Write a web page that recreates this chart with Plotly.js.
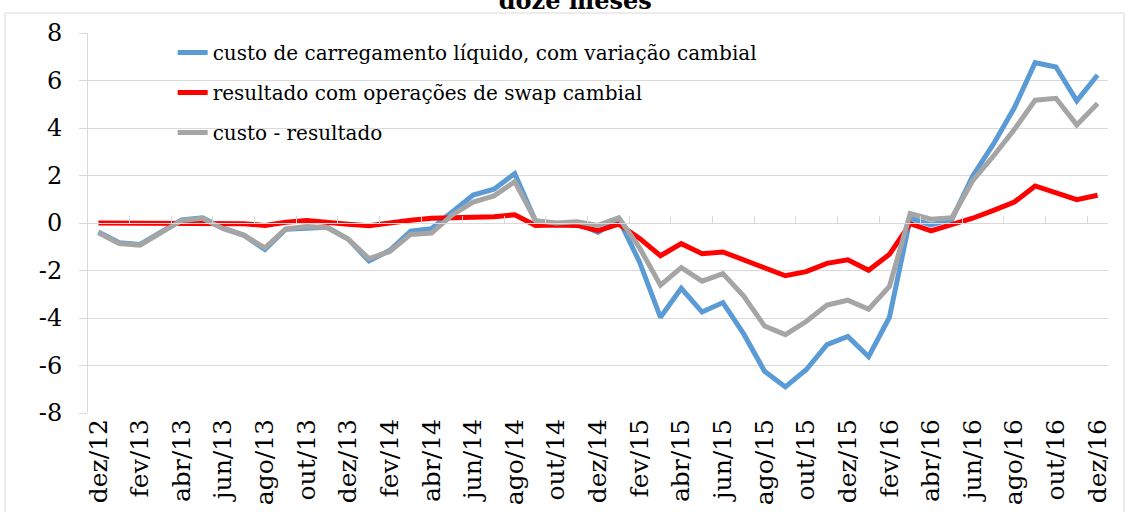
<!DOCTYPE html>
<html>
<head>
<meta charset="utf-8">
<script src="https://cdn.plot.ly/plotly-3.0.1.min.js"></script>
<style>
  html, body { margin: 0; padding: 0; background: #fff; }
  #chart { width: 1128px; height: 512px; }
</style>
</head>
<body>
<div id="chart"></div>
<script>
// Months (dez/2012 .. dez/2016)
const months = [
  "dez/12","jan/13","fev/13","mar/13","abr/13","mai/13","jun/13","jul/13","ago/13","set/13","out/13","nov/13",
  "dez/13","jan/14","fev/14","mar/14","abr/14","mai/14","jun/14","jul/14","ago/14","set/14","out/14","nov/14",
  "dez/14","jan/15","fev/15","mar/15","abr/15","mai/15","jun/15","jul/15","ago/15","set/15","out/15","nov/15",
  "dez/15","jan/16","fev/16","mar/16","abr/16","mai/16","jun/16","jul/16","ago/16","set/16","out/16","nov/16",
  "dez/16"
];

const custo = [
  -0.38, -0.83, -0.90, -0.41, 0.13, 0.22, -0.22, -0.52, -1.12, -0.26, -0.20, -0.18,
  -0.68, -1.60, -1.15, -0.34, -0.24, 0.50, 1.18, 1.42, 2.08, 0.08, -0.03, 0.00,
  -0.40, 0.15, -1.65, -3.97, -2.75, -3.75, -3.35, -4.67, -6.24, -6.90, -6.18, -5.12,
  -4.78, -5.63, -3.97, 0.20, -0.08, 0.15, 1.98, 3.33, 4.85, 6.75, 6.57, 5.14,
  6.23
];

const resultado = [
  0.00, 0.00, 0.01, 0.00, 0.00, 0.02, 0.00, -0.03, -0.10, 0.03, 0.10, 0.00,
  -0.05, -0.12, 0.02, 0.12, 0.20, 0.22, 0.27, 0.26, 0.35, -0.10, -0.08, -0.10,
  -0.32, -0.05, -0.65, -1.38, -0.87, -1.29, -1.22, -1.57, -1.88, -2.22, -2.05, -1.70,
  -1.55, -1.99, -1.32, -0.03, -0.33, -0.06, 0.20, 0.53, 0.88, 1.56, 1.28, 0.98,
  1.17
];

const diferenca = [
  -0.41, -0.86, -0.93, -0.41, 0.11, 0.20, -0.24, -0.52, -1.05, -0.25, -0.15, -0.20,
  -0.68, -1.50, -1.20, -0.48, -0.42, 0.34, 0.88, 1.14, 1.74, 0.10, 0.00, 0.05,
  -0.10, 0.22, -1.05, -2.62, -1.88, -2.45, -2.13, -3.08, -4.34, -4.70, -4.15, -3.45,
  -3.25, -3.63, -2.67, 0.40, 0.16, 0.22, 1.78, 2.82, 3.94, 5.17, 5.25, 4.13,
  5.03
];

const seriesNames = [
  "custo de carregamento líquido, com variação cambial",
  "resultado com operações de swap cambial",
  "custo - resultado"
];
const yTicks = [-8, -6, -4, -2, 0, 2, 4, 6, 8];
const yTickText = ["-8", "-6", "-4", "-2", "0", "2", "4", "6", "8"];

const tickLabels = months.filter((m, i) => i % 2 === 0);
const tickMarks = months.map((m, i) => i + 1.5).filter((v, i) => i % 2 === 0 && v < months.length - 1);

const FONT = "DejaVu Serif, Liberation Serif, serif";
const GRID = "#D9D9D9";

const traces = [
  { x: months, y: custo, name: seriesNames[0], legendgroup: "a", type: "scatter", mode: "lines",
    line: { color: "#5B9BD5", width: 5 } },
  { x: months, y: resultado, name: seriesNames[1], legendgroup: "b", type: "scatter", mode: "lines",
    line: { color: "#FF0000", width: 5 } },
  { x: months, y: diferenca, name: seriesNames[2], legendgroup: "c", type: "scatter", mode: "lines",
    line: { color: "#A5A5A5", width: 5 } },
  // invisible helper to activate the zero-line tick axis
  { x: [0], y: [0], xaxis: "x2", yaxis: "y", type: "scatter", mode: "markers",
    marker: { opacity: 0 }, showlegend: false, hoverinfo: "skip" }
];

const layout = {
  width: 1128, height: 512,
  margin: { l: 88, r: 20, t: 33, b: 99 },
  paper_bgcolor: "#ffffff", plot_bgcolor: "#ffffff",
  font: { family: FONT, color: "#000", size: 20 },
  title: {
    text: "doze meses",
    font: { family: FONT, size: 24, weight: "bold", color: "#000" },
    xref: "container", x: 0.51, xanchor: "center",
    yref: "container", y: 0.998, yanchor: "middle"
  },
  showlegend: true,
  legend: {
    x: 0.083, y: 1.0, xanchor: "left", yanchor: "top",
    bgcolor: "rgba(0,0,0,0)", borderwidth: 0,
    font: { family: FONT, size: 20, color: "#000" },
    traceorder: "grouped", tracegroupgap: 11,
    itemwidth: 30
  },
  xaxis: {
    type: "category",
    range: [-0.5, months.length - 0.5],
    tickmode: "array",
    tickvals: tickLabels, ticktext: tickLabels,
    tickangle: -90,
    tickfont: { family: FONT, size: 25, color: "#000" },
    showgrid: false, zeroline: false, showline: false,
    ticks: "", fixedrange: true
  },
  xaxis2: {
    overlaying: "x", anchor: "free", position: 0.5, side: "bottom",
    type: "linear", range: [-0.5, months.length - 0.5],
    tickmode: "array", tickvals: tickMarks,
    ticks: "inside", ticklen: 7, tickwidth: 1, tickcolor: GRID,
    showticklabels: false, showgrid: false, zeroline: false,
    showline: true, linecolor: GRID, linewidth: 1
  },
  yaxis: {
    range: [-8, 8],
    tickmode: "array", tickvals: yTicks, ticktext: yTickText,
    tickfont: { family: FONT, size: 24, color: "#000" },
    showgrid: true, gridcolor: GRID, gridwidth: 1,
    zeroline: false,
    showline: true, linecolor: GRID, linewidth: 1,
    ticks: "outside", ticklen: 8, tickcolor: GRID,
    ticklabelstandoff: 12
  },
  shapes: [
    { type: "rect", xref: "paper", yref: "paper",
      x0: -0.0814, x1: 1.0157, y0: -0.30, y1: 1.0526,
      line: { color: GRID, width: 1 }, fillcolor: "rgba(0,0,0,0)", layer: "below" }
  ]
};

Plotly.newPlot("chart", traces, layout, { staticPlot: true, displayModeBar: false });
</script>
</body>
</html>
